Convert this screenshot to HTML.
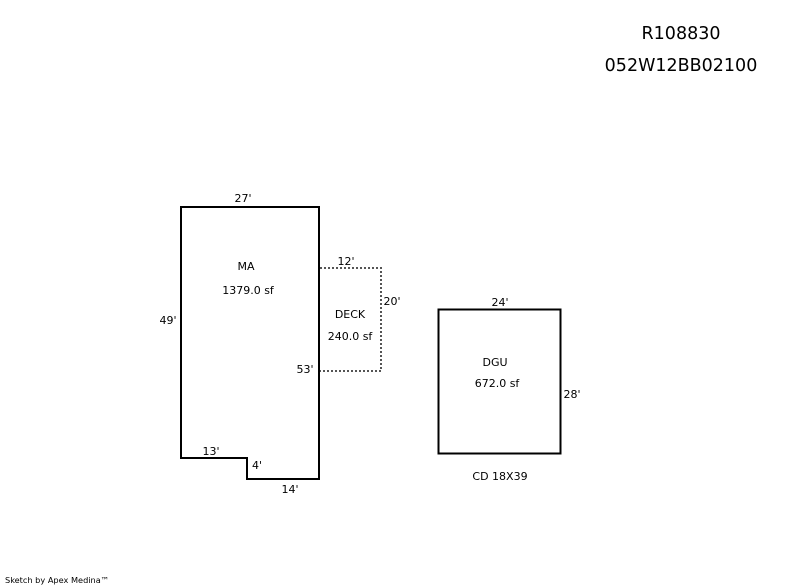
<!DOCTYPE html>
<html><head><style>
html,body{margin:0;padding:0;background:#fff;width:800px;height:587px;overflow:hidden}
svg text{font-family:"DejaVu Sans","Liberation Sans",sans-serif;font-size:11px;fill:#000}
</style></head><body>
<svg width="800" height="587" xmlns="http://www.w3.org/2000/svg">
<text x="681" y="39" text-anchor="middle" style="font-size:17.5px">R108830</text>
<text x="681" y="71" text-anchor="middle" style="font-size:17.5px">052W12BB02100</text>
<polygon points="181,207 319,207 319,479 247,479 247,458 181,458" fill="none" stroke="#000" stroke-width="2"/>
<polyline points="320,268 381,268 381,371 320,371" fill="none" stroke="#555" stroke-width="2" stroke-dasharray="2,2"/>
<rect x="438.5" y="309.5" width="122" height="144" fill="none" stroke="#000" stroke-width="2"/>
<text x="243" y="202" text-anchor="middle">27'</text>
<text x="246" y="270" text-anchor="middle">MA</text>
<text x="248" y="294" text-anchor="middle">1379.0 sf</text>
<text x="168" y="324" text-anchor="middle">49'</text>
<text x="346" y="265" text-anchor="middle">12'</text>
<text x="392" y="305" text-anchor="middle">20'</text>
<text x="350" y="318" text-anchor="middle">DECK</text>
<text x="350" y="340" text-anchor="middle">240.0 sf</text>
<text x="305" y="373" text-anchor="middle">53'</text>
<text x="211" y="455" text-anchor="middle">13'</text>
<text x="257" y="469" text-anchor="middle">4'</text>
<text x="290" y="493" text-anchor="middle">14'</text>
<text x="500" y="306" text-anchor="middle">24'</text>
<text x="495" y="366" text-anchor="middle">DGU</text>
<text x="497" y="387" text-anchor="middle">672.0 sf</text>
<text x="572" y="398" text-anchor="middle">28'</text>
<text x="500" y="480" text-anchor="middle">CD 18X39</text>
<text x="5" y="583" style="font-size:8.2px">Sketch by Apex Medina™</text>
</svg>
</body></html>
